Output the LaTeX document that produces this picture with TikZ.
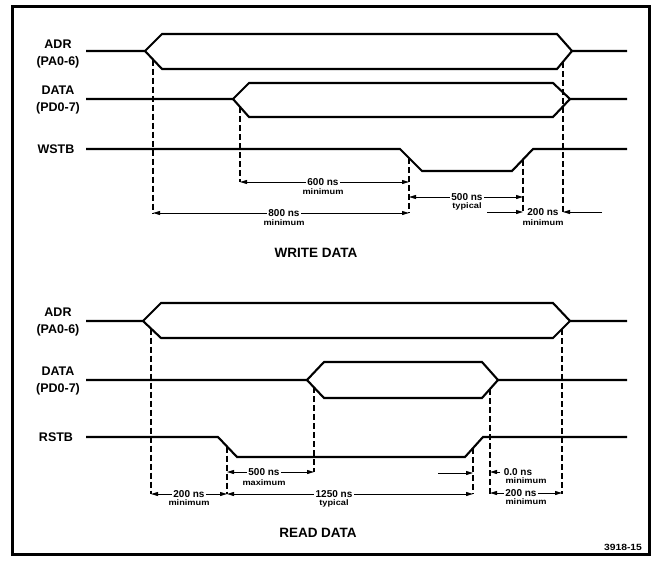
\documentclass[tikz,border=0pt]{standalone}
\usepackage{fontspec}
\setmainfont{Liberation Sans}
\usetikzlibrary{arrows.meta}
\begin{document}
\begin{tikzpicture}[x=1pt,y=-1pt,
 sig/.style={line width=2.1pt, line join=miter},
 guide/.style={line width=1.1pt, dash pattern=on 6pt off 3pt},
 dim/.style={line width=0.9pt},
 tip/.style={-{Triangle[length=7pt,width=4pt]}},
 both/.style={{Triangle[length=7pt,width=4pt]}-{Triangle[length=7pt,width=4pt]}},
 lbl/.style={font=\bfseries\fontsize{12.5}{17}\selectfont, align=center, inner sep=0pt},
 val/.style={font=\bfseries\fontsize{10}{10}\selectfont, fill=white, inner xsep=1.5pt, inner ysep=0.5pt},
 sub/.style={font=\bfseries\fontsize{8}{8}\selectfont, xscale=1.15, inner sep=0pt},
 ttl/.style={font=\bfseries\fontsize{13.5}{14}\selectfont, inner sep=0pt}]
\useasboundingbox (0,0) rectangle (659,565);
\draw[line width=3pt] (12,6) rectangle (649,554);

% ---------------- WRITE DATA ----------------
\node[lbl] (wadr) at (58,53.5) {ADR\\(PA0-6)};
\node[lbl] (wdata) at (58,100) {DATA\\(PD0-7)};
\node[lbl] (wstb) at (56,149) {WSTB};

\draw[sig] (86,51) -- (145,51) -- (162,34) -- (557,34) -- (572,51) -- (627,51);
\draw[sig] (145,51) -- (162,69) -- (557,69) -- (572,51);
\draw[sig] (86,99) -- (233,99) -- (249,83) -- (553,83) -- (570,99) -- (627,99);
\draw[sig] (233,99) -- (249,117) -- (553,117) -- (570,99);
\draw[sig] (86,149) -- (400,149) -- (422,171) -- (512,171) -- (533,149) -- (627,149);

\coordinate (wa1) at (153,213);
\coordinate (wd1) at (240,182);
\coordinate (wf1) at (409,213);
\coordinate (wr1) at (523,213);
\coordinate (wa2) at (563,213);
\draw[guide] (153,59.5) -- (wa1);
\draw[guide] (240,107) -- (wd1);
\draw[guide] (409,158) -- (wf1);
\draw[guide] (523,159.5) -- (wr1);
\draw[guide] (563,61.8) -- (wa2);

\draw[dim,both] (wd1) -- (wd1 -| wf1);
\node[val] (w600) at (323,182) {600 ns};
\node[sub] (w600m) at (323,191.5) {minimum};
\draw[dim,both] (wa1) -- (wf1);
\node[val] (w800) at (284,213) {800 ns};
\node[sub] (w800m) at (284,223) {minimum};
\draw[dim,both] (409,197) -- (523,197);
\node[val] (w500) at (467,197) {500 ns};
\node[sub] (w500m) at (467,206) {typical};
\coordinate (w200a) at (487,212);
\coordinate (w200b) at (602,212);
\draw[dim,tip] (w200a) -- (523,212);
\draw[dim,tip] (w200b) -- (563,212);
\node[val,fill=none] (w200) at (543,212) {200 ns};
\node[sub] (w200m) at (543,223) {minimum};
\node[ttl] (wtitle) at (316,253) {WRITE DATA};

% ---------------- READ DATA ----------------
\node[lbl] (radr) at (58,322) {ADR\\(PA0-6)};
\node[lbl] (rdata) at (58,381) {DATA\\(PD0-7)};
\node[lbl] (rstb) at (56,437) {RSTB};

\draw[sig] (86,321) -- (143,321) -- (161,303) -- (553,303) -- (570,321) -- (627,321);
\draw[sig] (143,321) -- (161,338) -- (553,338) -- (570,321);
\draw[sig] (86,380) -- (307,380) -- (324,362) -- (482,362) -- (498,380) -- (627,380);
\draw[sig] (307,380) -- (324,398) -- (482,398) -- (498,380);
\draw[sig] (86,437) -- (218,437) -- (237,457) -- (465,457) -- (483,437) -- (627,437);

\coordinate (ra1) at (151,494);
\coordinate (rf1) at (227,494);
\coordinate (rd1) at (314,472);
\coordinate (rr1) at (473,494);
\coordinate (rd2) at (490,494);
\coordinate (ra2) at (562,494);
\draw[guide] (151,328.6) -- (ra1);
\draw[guide] (227,446.5) -- (rf1);
\draw[guide] (314,387.4) -- (rd1);
\draw[guide] (473,448) -- (rr1);
\draw[guide] (490,389) -- (rd2);
\draw[guide] (562,329) -- (ra2);

\draw[dim,both] (rd1 -| rf1) -- (rd1);
\node[val] (r500) at (264,472) {500 ns};
\node[sub] (r500m) at (264,483) {maximum};
\draw[dim,both] (ra1) -- (rf1);
\node[val] (r200) at (189,494) {200 ns};
\node[sub] (r200m) at (189,503) {minimum};
\draw[dim,both] (rf1) -- (rr1);
\node[val] (r1250) at (334,494) {1250 ns};
\node[sub] (r1250m) at (334,503) {typical};
\coordinate (r00a) at (438,473);
\coordinate (r00b) at (500,472);
\draw[dim,tip] (r00a) -- (473,473);
\draw[dim,tip] (r00b) -- (490,472);
\node[val,fill=none] (r00) at (518,472) {0.0 ns};
\node[sub] (r00m) at (526,481) {minimum};
\draw[dim,both] (rd2 |- 0,493) -- (ra2 |- 0,493);
\node[val] (r200b) at (521,493) {200 ns};
\node[sub] (r200bm) at (526,502) {minimum};
\node[ttl] (rtitle) at (318,533) {READ DATA};
\node[sub,font=\bfseries\fontsize{9}{9}\selectfont] (fig) at (623,547) {3918-15};
\end{tikzpicture}
\end{document}
